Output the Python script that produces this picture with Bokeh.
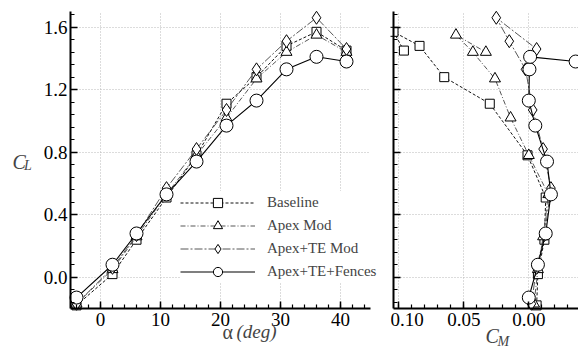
import numpy as np
from bokeh.plotting import figure
from bokeh.layouts import row
from bokeh.models import (Range1d, Legend, LegendItem, Label, FixedTicker,
                          NumeralTickFormatter, Grid, CustomLabelingPolicy)
from bokeh.embed import file_html
from bokeh.resources import INLINE

# Angle of attack (deg)
alpha = [-4, 2, 6, 11, 16, 21, 26, 31, 36, 41]

# Lift coefficient per configuration
cl_baseline = [-0.18, 0.02, 0.24, 0.51, 0.78, 1.11, 1.28, 1.48, 1.57, 1.45]
cl_apex = [-0.17, 0.05, 0.26, 0.53, 0.78, 1.02, 1.27, 1.44, 1.55, 1.44]
cl_apex_te = [-0.17, 0.06, 0.27, 0.57, 0.82, 1.07, 1.33, 1.51, 1.66, 1.46]
cl_fences = [-0.13, 0.08, 0.28, 0.53, 0.74, 0.97, 1.13, 1.33, 1.41, 1.38]

# Pitching moment coefficient per configuration
cm_baseline = [-0.006, -0.007, -0.012, -0.013, 0.001, 0.030, 0.065, 0.084, 0.104, 0.096]
cm_apex = [-0.004, -0.007, -0.011, -0.015, 0.000, 0.014, 0.026, 0.043, 0.056, 0.033]
cm_apex_te = [-0.002, -0.006, -0.012, -0.017, -0.011, -0.003, 0.0025, 0.015, 0.025, -0.006]
cm_fences = [0.000, -0.007, -0.013, -0.017, -0.014, -0.005, 0.000, -0.0005, -0.001, -0.036]

labels = ["Baseline", "Apex Mod", "Apex+TE Mod", "Apex+TE+Fences"]
cl_series = [cl_baseline, cl_apex, cl_apex_te, cl_fences]
cm_series = [cm_baseline, cm_apex, cm_apex_te, cm_fences]

# Axis extents and ticks
ALPHA_LIM = (-5, 45)
CL_LIM = (-0.2, 1.7)
CM_LIM = (0.104, -0.0382)          # reversed: positive moment on the left
y_major = [0.0, 0.4, 0.8, 1.2, 1.6]
y_minor = list(np.round(np.arange(-0.16, 1.70, 0.08), 3))
x1_major = [0, 10, 20, 30, 40]
x1_minor = list(range(-4, 46, 2))
x2_major = [0.10, 0.05, 0.00]
x2_minor = list(np.round(np.arange(-0.03, 0.105, 0.01), 3))

# Line / marker style for each configuration
styles = [
    dict(marker="square", size=9, dash="3 2", color="#111111", lw=1.0),
    dict(marker="triangle", size=11, dash="5 2 1 2", color="#444444", lw=0.9),
    dict(marker="diamond", size=13, dash="8 2 2 2", color="#444444", lw=0.9),
    dict(marker="circle", size=13, dash="solid", color="#000000", lw=1.1),
]

SERIF = "Liberation Serif"
TICK_FONT = "19px"

# Page geometry (pixels): each canvas is entirely plot area, the axes are
# pinned at the data limits so titles and legend can live anywhere.
H = 350
TOP, BOTTOM = 11, 308              # pixel rows of CL_LIM[1] and CL_LIM[0]
W1, W2 = 390, 188
L1, R1 = 70, 370                   # pixel columns of ALPHA_LIM in panel 1
L2 = 3                             # pixel column of CM_LIM[0] in panel 2

cl_scale = (BOTTOM - TOP) / (CL_LIM[1] - CL_LIM[0])
y_range = Range1d(CL_LIM[0] - (H - BOTTOM) / cl_scale, CL_LIM[1] + TOP / cl_scale)

a_scale = (R1 - L1) / (ALPHA_LIM[1] - ALPHA_LIM[0])
x1_range = Range1d(ALPHA_LIM[0] - L1 / a_scale, ALPHA_LIM[1] + (W1 - R1) / a_scale)

cm_scale = (W2 - L2) / (CM_LIM[0] - CM_LIM[1])
x2_range = Range1d(CM_LIM[0] + L2 / cm_scale, CM_LIM[1])


def px_x1(px):
    return x1_range.start + px / a_scale


def px_x2(px):
    return x2_range.start - px / cm_scale


def px_y(py):
    return y_range.end - py / cl_scale


def make_panel(width, x_range, x_lim, x_major, x_minor, x_fmt, show_y_labels):
    p = figure(x_range=x_range, y_range=y_range, width=width, height=H,
               min_border=0, output_backend="svg", toolbar_location=None)
    p.outline_line_color = None
    p.background_fill_color = "white"
    p.border_fill_color = "white"

    p.xaxis.fixed_location = CL_LIM[0]
    p.yaxis.fixed_location = x_lim[0]
    p.xaxis.bounds = tuple(sorted(x_lim))
    p.yaxis.bounds = CL_LIM
    p.xaxis.ticker = FixedTicker(ticks=x_major, minor_ticks=x_minor)
    p.yaxis.ticker = FixedTicker(ticks=y_major, minor_ticks=y_minor)
    p.xaxis.formatter = NumeralTickFormatter(format=x_fmt)
    p.yaxis.formatter = NumeralTickFormatter(format="0.0")
    for ax in (p.xaxis[0], p.yaxis[0]):
        ax.axis_line_width = 2
        ax.axis_line_color = "black"
        ax.major_tick_in = 7
        ax.major_tick_out = 0
        ax.minor_tick_in = 4
        ax.minor_tick_out = 0
        ax.major_tick_line_width = 1.5
        ax.minor_tick_line_width = 1.2
        ax.major_tick_line_color = "black"
        ax.minor_tick_line_color = "black"
        ax.major_label_text_font = SERIF
        ax.major_label_text_font_size = TICK_FONT
        ax.major_label_text_color = "black"
    p.xaxis.major_label_standoff = 4
    p.yaxis.major_label_standoff = 3
    if not show_y_labels:
        # ticks only, no numbers on the shared lift axis
        p.yaxis.major_label_policy = CustomLabelingPolicy(code="""
            for (const i of Array.from(indices)) indices.unset(i)
            return indices
        """)

    # dotted grid limited to the data box
    has_cross = "cross_bounds" in Grid.properties()
    for g, lim, cross in ((p.xgrid[0], x_lim, CL_LIM), (p.ygrid[0], CL_LIM, x_lim)):
        g.bounds = tuple(sorted(lim))
        if has_cross:
            g.cross_bounds = tuple(sorted(cross))
        g.grid_line_color = "#b8b8b8"
        g.grid_line_dash = "1 2"
        g.grid_line_width = 1
    if not has_cross:
        p.xgrid.visible = False
        p.ygrid.visible = False
        xs = list(x_major)
        p.segment(x0=xs, x1=xs, y0=[CL_LIM[0]] * len(xs), y1=[CL_LIM[1]] * len(xs),
                  line_color="#b8b8b8", line_dash="1 2", level="underlay")
        ys = list(y_major)
        p.segment(x0=[x_lim[0]] * len(ys), x1=[x_lim[1]] * len(ys), y0=ys, y1=ys,
                  line_color="#b8b8b8", line_dash="1 2", level="underlay")
    return p


def title_text(p, x, y, text, size, italic=True):
    p.add_layout(Label(x=x, y=y, text=text, text_font=SERIF, text_font_size=size,
                       text_font_style="italic" if italic else "normal",
                       text_baseline="alphabetic"))


# ---- Left panel: C_L vs alpha ----
p1 = make_panel(W1, x1_range, ALPHA_LIM, x1_major, x1_minor, "0", True)

items = []
for lab, cl, st in zip(labels, cl_series, styles):
    lr = p1.line(alpha, cl, line_color=st["color"], line_width=st["lw"],
                 line_dash=st["dash"])
    sr = p1.scatter(alpha, cl, marker=st["marker"], size=st["size"],
                    fill_color="white", line_color="black", line_width=1.0)
    items.append(LegendItem(label=lab, renderers=[lr, sr]))

legend = Legend(items=items, location=(180, H - 283), padding=0, margin=0,
                spacing=0, glyph_width=75, glyph_height=23, label_height=23,
                label_standoff=12, label_text_font=SERIF,
                label_text_font_size="15px", border_line_color=None,
                background_fill_color="white", background_fill_alpha=1.0)
p1.add_layout(legend, "center")

title_text(p1, px_x1(12), px_y(161), "C", "20px")
title_text(p1, px_x1(23.5), px_y(165), "L", "14px")
title_text(p1, px_x1(222), px_y(331), "α", "20px", italic=False)
title_text(p1, px_x1(236), px_y(331), "(deg)", "19px")

# ---- Right panel: C_L vs C_M ----
p2 = make_panel(W2, x2_range, CM_LIM, x2_major, x2_minor, "0.00", False)

for cm, cl, st in zip(cm_series, cl_series, styles):
    p2.line(cm, cl, line_color=st["color"], line_width=st["lw"], line_dash=st["dash"])
    p2.scatter(cm, cl, marker=st["marker"], size=st["size"],
               fill_color="white", line_color="black", line_width=1.0)

title_text(p2, px_x2(485 - W1), px_y(335), "C", "20px")
title_text(p2, px_x2(497 - W1), px_y(341), "M", "14px")

layout = row(p1, p2)
open("out.html", "w").write(file_html(layout, INLINE))
